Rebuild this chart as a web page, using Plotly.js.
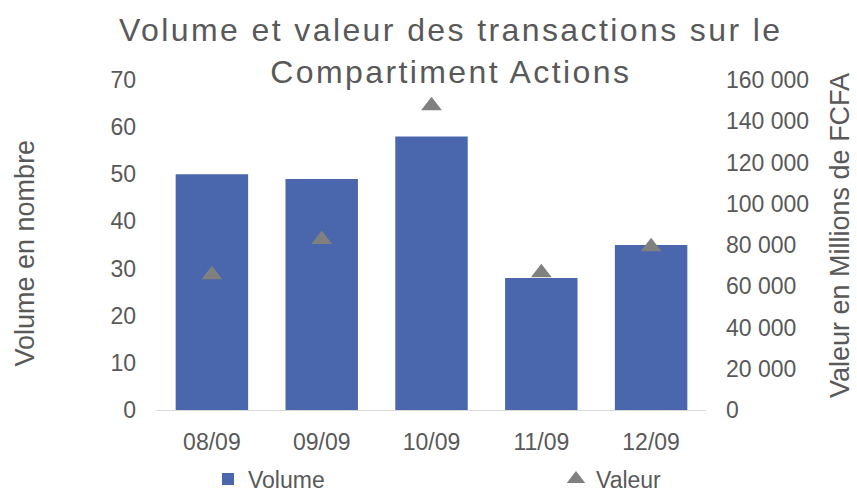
<!DOCTYPE html>
<html>
<head>
<meta charset="utf-8">
<script src="https://cdn.plot.ly/plotly-3.0.1.min.js"></script>
<style>
  html, body { margin: 0; padding: 0; background: #fff; }
  #chart { width: 857px; height: 491px; }
  .gtitle { letter-spacing: 2.4px; }
</style>
</head>
<body>
<div id="chart"></div>
<script>
// ---- Data ----
const dates = ['08/09', '09/09', '10/09', '11/09', '12/09'];
const volume = [50, 49, 58, 28, 35];
const valeur = [65600, 82700, 147500, 66500, 79200];

const leftTicks = [0, 10, 20, 30, 40, 50, 60, 70];
const rightTicks = [0, 20000, 40000, 60000, 80000, 100000, 120000, 140000, 160000];
const rightTickLabels = ['0', '20 000', '40 000', '60 000', '80 000', '100 000', '120 000', '140 000', '160 000'];

const FONT = 'Liberation Sans, Arial, sans-serif';
const GREY = '#595959';

const traces = [
  {
    type: 'bar',
    name: 'Volume',
    x: dates,
    y: volume,
    marker: { color: '#4A66AC' },
    yaxis: 'y',
    legend: 'legend'
  },
  {
    type: 'scatter',
    mode: 'markers',
    name: 'Valeur',
    x: dates,
    y: valeur,
    yaxis: 'y2',
    legend: 'legend2',
    marker: { symbol: 'triangle-up', size: 18, color: '#808080' }
  }
];

const legendBase = {
  orientation: 'h',
  xref: 'container',
  xanchor: 'left',
  y: (410 - 479) / 330,
  yref: 'paper',
  yanchor: 'middle',
  font: { family: FONT, size: 23, color: GREY },
  bgcolor: 'rgba(0,0,0,0)',
  itemwidth: 30
};

const layout = {
  width: 857,
  height: 491,
  paper_bgcolor: '#ffffff',
  plot_bgcolor: '#ffffff',
  margin: { l: 157, r: 151, t: 80, b: 81, pad: 0, autoexpand: false },
  font: { family: FONT, color: GREY, size: 23 },
  bargap: 0.34,
  showlegend: true,
  title: {
    text: 'Volume et valeur des transactions sur le<br>Compartiment Actions',
    font: { family: FONT, size: 32, color: GREY },
    x: 0.526,
    xref: 'container',
    xanchor: 'center',
    y: 0.916,
    yref: 'container',
    yanchor: 'top'
  },
  xaxis: {
    type: 'category',
    showgrid: false,
    zeroline: false,
    showline: true,
    linecolor: '#D9D9D9',
    linewidth: 1,
    ticks: '',
    tickangle: 0,
    automargin: false,
    tickfont: { family: FONT, size: 23, color: GREY },
    ticklabelstandoff: 11,
    fixedrange: true
  },
  yaxis: {
    range: [0, 70],
    tickvals: leftTicks,
    showgrid: false,
    zeroline: false,
    showline: false,
    ticks: '',
    automargin: false,
    tickfont: { family: FONT, size: 23, color: GREY },
    ticklabelstandoff: 20,
    fixedrange: true
  },
  yaxis2: {
    range: [0, 160000],
    overlaying: 'y',
    side: 'right',
    tickvals: rightTicks,
    ticktext: rightTickLabels,
    showgrid: false,
    zeroline: false,
    showline: false,
    ticks: '',
    automargin: false,
    tickfont: { family: FONT, size: 23, color: GREY },
    ticklabelstandoff: 19,
    fixedrange: true
  },
  legend: Object.assign({}, legendBase, { x: 208 / 857 }),
  legend2: Object.assign({}, legendBase, { x: 556 / 857 }),
  annotations: [
    {
      text: 'Volume en nombre',
      xref: 'paper', yref: 'paper',
      x: (24 - 157) / (857 - 157 - 151),
      y: (410 - 253.5) / 330,
      xanchor: 'center', yanchor: 'middle',
      textangle: -90,
      showarrow: false,
      font: { family: FONT, size: 27, color: GREY }
    },
    {
      text: 'Valeur en Millions de FCFA',
      xref: 'paper', yref: 'paper',
      x: (840 - 157) / (857 - 157 - 151),
      y: (410 - 236) / 330,
      xanchor: 'center', yanchor: 'middle',
      textangle: -90,
      showarrow: false,
      font: { family: FONT, size: 27, color: GREY }
    }
  ]
};

Plotly.newPlot('chart', traces, layout, { displayModeBar: false, staticPlot: true });
</script>
</body>
</html>
